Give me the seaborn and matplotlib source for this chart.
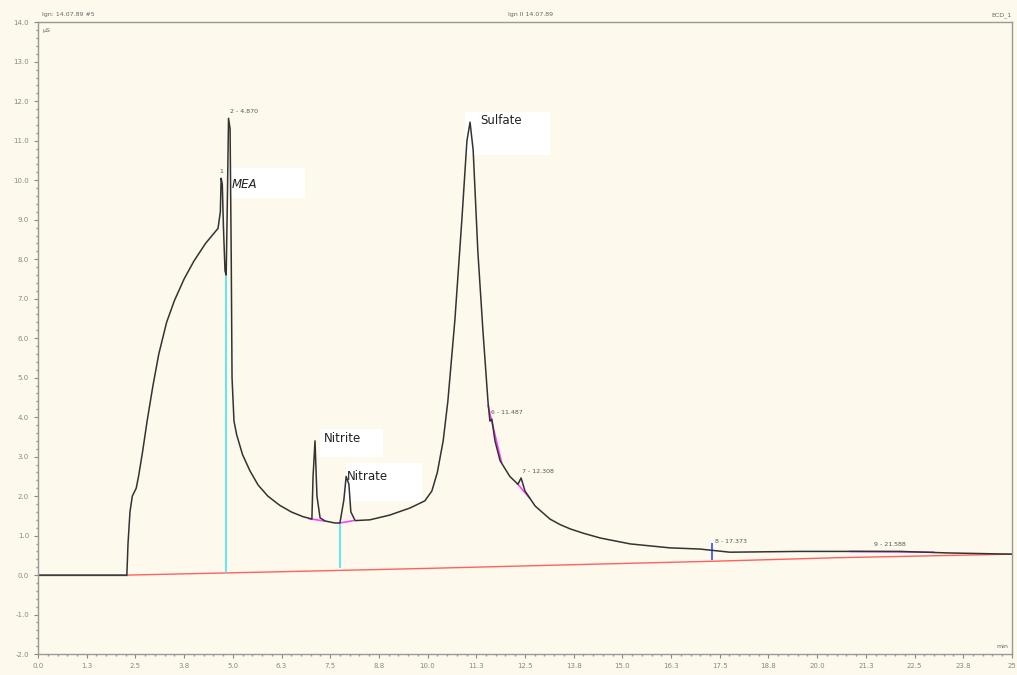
import numpy as np
import pandas as pd
import seaborn as sns
import matplotlib.pyplot as plt
from matplotlib.patches import Rectangle

# retention time (min) and conductivity (uS)
time = [0.0, 2.28, 2.31, 2.36, 2.42, 2.52, 2.58, 2.68, 2.80, 2.95,
        3.10, 3.30, 3.50, 3.75, 4.00, 4.30, 4.62, 4.68, 4.70, 4.73,
        4.76, 4.80, 4.83, 4.86, 4.89, 4.93, 4.96, 4.98, 5.03, 5.10,
        5.25, 5.44, 5.65, 5.90, 6.20, 6.50, 6.80, 7.03, 7.06, 7.11,
        7.16, 7.24, 7.37, 7.62, 7.75, 7.85, 7.91, 7.98, 8.03, 8.14,
        8.52, 9.03, 9.55, 9.93, 10.11, 10.25, 10.40, 10.52, 10.70, 10.88,
        11.01, 11.09, 11.17, 11.29, 11.42, 11.55, 11.60, 11.65, 11.73, 11.86,
        12.11, 12.32, 12.40, 12.50, 12.76, 13.14, 13.40, 13.66, 14.00, 14.43,
        15.20, 16.22, 16.99, 17.76, 19.56, 20.84, 22.12, 23.41, 25.0]
signal = [0.0, 0.0, 0.8, 1.6, 2.0, 2.2, 2.5, 3.1, 3.9, 4.8,
          5.6, 6.4, 6.95, 7.5, 7.95, 8.4, 8.78, 9.2, 10.05, 9.9,
          8.8, 7.7, 7.6, 9.5, 11.57, 11.3, 8.0, 5.0, 3.9, 3.55,
          3.05, 2.64, 2.28, 2.0, 1.77, 1.6, 1.48, 1.42, 2.5, 3.4,
          2.0, 1.45, 1.37, 1.32, 1.32, 1.9, 2.5, 2.3, 1.6, 1.38,
          1.40, 1.52, 1.70, 1.88, 2.13, 2.6, 3.4, 4.4, 6.45, 9.0,
          11.0, 11.47, 10.76, 8.2, 6.2, 4.4, 3.9, 3.95, 3.4, 2.9,
          2.5, 2.3, 2.46, 2.13, 1.75, 1.42, 1.28, 1.17, 1.06, 0.94,
          0.79, 0.69, 0.66, 0.58, 0.60, 0.60, 0.60, 0.56, 0.53]

# integration baseline (red)
base_time = [2.28, 6.0, 10.0, 14.0, 17.3, 20.5, 23.5, 25.0]
base_level = [0.0, 0.08, 0.17, 0.27, 0.35, 0.44, 0.50, 0.53]

# peak cut lines (cyan)
cut_time = [4.83, 7.75]
cut_top = [7.6, 1.32]
cut_bottom = [0.06, 0.17]

# magenta peak baselines
seg_t0 = [6.95, 7.75, 11.55, 12.30, 20.84]
seg_y0 = [1.43, 1.32, 4.3, 2.32, 0.60]
seg_t1 = [7.35, 8.10, 11.90, 12.62, 23.0]
seg_y1 = [1.37, 1.38, 2.85, 1.95, 0.58]

# small peak labels
small_labels = ["1", "2 - 4.870", "6 - 11.487", "7 - 12.308", "8 - 17.373", "9 - 21.588"]
small_x = [4.66, 4.93, 11.64, 12.42, 17.38, 21.45]
small_y = [10.15, 11.68, 4.05, 2.55, 0.78, 0.72]

# named peaks with white boxes
name_labels = ["MEA", "Nitrite", "Nitrate", "Sulfate"]
name_x = [4.98, 7.35, 7.92, 11.35]
name_y = [9.9, 3.45, 2.5, 11.5]

xtick_vals = [0.0, 1.25, 2.5, 3.75, 5.0, 6.25, 7.5, 8.75, 10.0, 11.25, 12.5,
              13.75, 15.0, 16.25, 17.5, 18.75, 20.0, 21.25, 22.5, 23.75, 25.0]
xtick_text = ["0.0", "1.3", "2.5", "3.8", "5.0", "6.3", "7.5", "8.8", "10.0", "11.3", "12.5",
              "13.8", "15.0", "16.3", "17.5", "18.8", "20.0", "21.3", "22.5", "23.8", "25"]

bg = "#fdf9ec"
sns.set_theme(style="ticks")
plt.rcParams['font.family'] = ['DejaVu Sans']

fig = plt.figure(figsize=(10.17, 6.75), dpi=100, facecolor=bg)
ax = fig.add_axes([0.0374, 0.031, 0.9576, 0.936])
ax.set_facecolor(bg)

trace = pd.DataFrame({"time": time, "signal": signal})
baseline = pd.DataFrame({"time": base_time, "signal": base_level})

ax.axhline(0.0, xmin=0, xmax=2.28 / 25, color="#777777", lw=1.0)
sns.lineplot(data=baseline, x="time", y="signal", ax=ax, color="#ff6060",
             lw=1.0, estimator=None, sort=False)
ax.vlines(cut_time, cut_bottom, cut_top, colors="#40e8f0", lw=1.2)
for a, b, c, d in zip(seg_t0, seg_y0, seg_t1, seg_y1):
    ax.plot([a, c], [b, d], color="#ff40ff", lw=1.2)
ax.vlines([17.3], [0.38], [0.82], colors="#3050ff", lw=1.2)
sns.lineplot(data=trace, x="time", y="signal", ax=ax, color="#333333",
             lw=1.1, estimator=None, sort=False)

# white label boxes
boxes = [(4.93, 9.54, 1.92, 0.78), (7.25, 3.0, 1.6, 0.7),
         (7.90, 1.88, 1.95, 0.96), (10.96, 10.63, 2.18, 1.1)]
for bx, by, bw, bh in boxes:
    ax.add_patch(Rectangle((bx, by), bw, bh, facecolor="white", edgecolor="none", zorder=1))

for lab, x, y in zip(small_labels, small_x, small_y):
    ax.text(x, y, lab, fontsize=4.5, color="#555555", va="bottom", ha="left", zorder=5)
for lab, x, y in zip(name_labels, name_x, name_y):
    style = "italic" if lab == "MEA" else "normal"
    ax.text(x, y, lab, fontsize=8.5, color="#222222", va="center", ha="left",
            style=style, zorder=5)

ax.set_xlim(0, 25)
ax.set_ylim(-2, 14)
ax.set_xticks(xtick_vals)
ax.set_xticklabels(xtick_text)
ax.set_yticks(np.arange(-2, 14.1, 1.0))
ax.set_yticklabels([f"{v:.1f}" for v in np.arange(-2, 14.1, 1.0)])
ax.set_xticks(np.arange(0, 25.01, 0.25), minor=True)
ax.set_yticks(np.arange(-2, 14.01, 0.2), minor=True)
ax.tick_params(axis="both", labelsize=5, colors="#888888", length=3, width=0.8)
ax.tick_params(which="minor", length=1.5, color="#999999")
ax.set_xlabel("")
ax.set_ylabel("")
for s in ax.spines.values():
    s.set_color("#999999")
    s.set_linewidth(1.0)

ax.text(0.12, 13.8, "µS", fontsize=4.5, color="#666666", va="center")
ax.text(24.6, -1.8, "min", fontsize=4.5, color="#666666", va="center")
fig.text(0.041, 0.978, "lgn: 14.07.89 #5", fontsize=4.5, color="#666666", va="center")
fig.text(0.50, 0.978, "lgn II 14.07.89", fontsize=4.5, color="#666666", va="center")
fig.text(0.995, 0.978, "ECD_1", fontsize=4.5, color="#666666", va="center", ha="right")

fig.savefig("out.png", dpi=100, facecolor=bg)
